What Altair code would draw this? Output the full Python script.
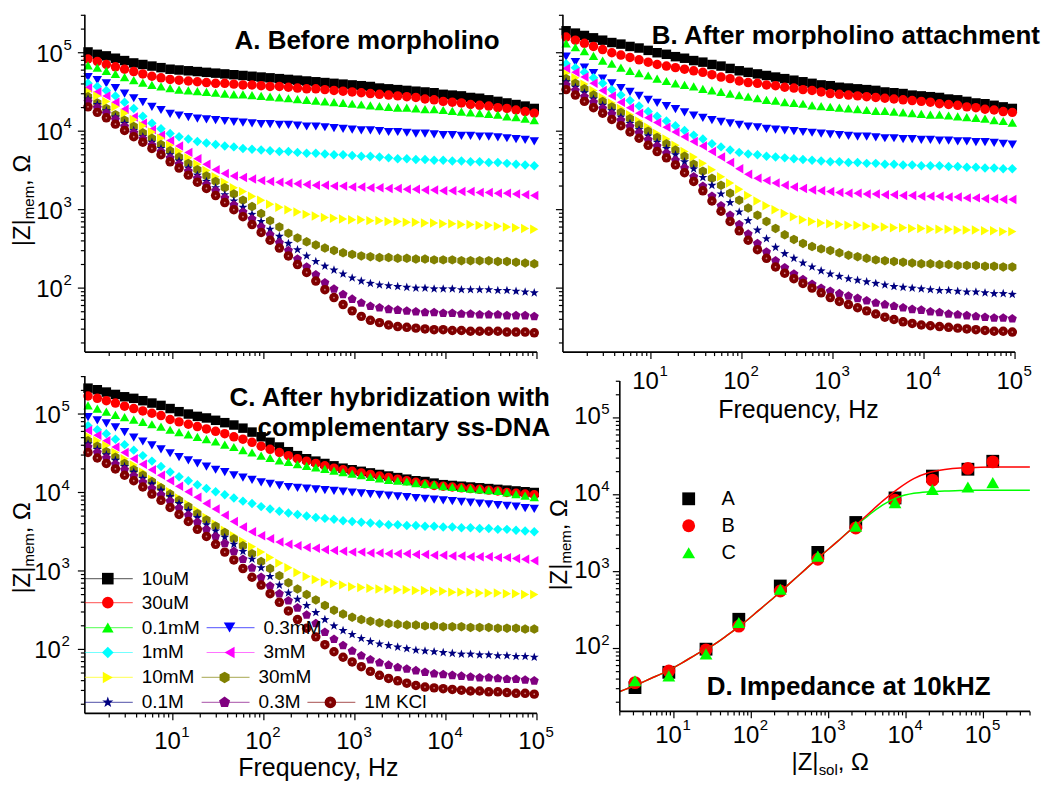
import altair as alt
import pandas as pd

FONT = "Liberation Sans"

# ---------------- series definitions ----------------
series = ["10uM", "30uM", "0.1mM", "0.3mM", "1mM", "3mM", "10mM", "30mM", "0.1M", "0.3M", "1M KCl"]
colors = ["#000000", "#FF0000", "#00FF00", "#0000FF", "#00FFFF", "#FF00FF",
          "#FFFF00", "#808000", "#000080", "#800080", "#800000"]
STAR = "M0,-1L0.235,-0.324L0.951,-0.309L0.38,0.124L0.588,0.809L0,0.4L-0.588,0.809L-0.38,0.124L-0.951,-0.309L-0.235,-0.324Z"
HEXA = "M0,-1L0.866,-0.5L0.866,0.5L0,1L-0.866,0.5L-0.866,-0.5Z"
PENT = "M0,-1L0.951,-0.309L0.588,0.809L-0.588,0.809L-0.951,-0.309Z"
shapes = ["square", "circle", "triangle-up", "triangle-down", "diamond", "triangle-left",
          "triangle-right", HEXA, STAR, PENT, "circle"]

# frequencies (Hz)
freq = [1.17, 1.48, 1.86, 2.34, 2.95, 3.72, 4.68, 5.89, 7.41, 9.33,
        11.7, 14.8, 18.6, 23.4, 29.5, 37.2, 46.8, 58.9, 74.1, 93.3,
        117, 148, 186, 234, 295, 372, 468, 589, 741, 933,
        1175, 1479, 1862, 2344, 2951, 3715, 4677, 5888, 7413, 9333,
        11749, 14791, 18621, 23442, 29512, 37154, 46774, 58884, 74131, 93325]

# ---------------- Panel A: log10 |Z|mem ----------------
A_10uM = [5.01,4.98,4.96,4.93,4.90,4.87,4.85,4.83,4.81,4.79,4.78,4.77,4.76,4.75,4.74,4.73,4.72,4.71,4.70,4.69,
          4.68,4.67,4.66,4.65,4.64,4.63,4.62,4.61,4.60,4.59,4.58,4.57,4.55,4.54,4.53,4.52,4.51,4.50,4.49,4.47,
          4.46,4.45,4.43,4.42,4.40,4.38,4.36,4.34,4.32,4.29]
A_30uM = [4.92,4.89,4.85,4.82,4.79,4.76,4.73,4.70,4.68,4.66,4.65,4.64,4.63,4.62,4.61,4.61,4.60,4.59,4.59,4.58,
          4.57,4.57,4.56,4.55,4.54,4.54,4.53,4.52,4.51,4.50,4.49,4.48,4.47,4.46,4.45,4.44,4.43,4.41,4.40,4.38,
          4.37,4.36,4.34,4.33,4.32,4.30,4.29,4.27,4.25,4.23]
A_0p1mM = [4.84,4.81,4.77,4.73,4.69,4.65,4.62,4.59,4.57,4.55,4.53,4.52,4.51,4.50,4.49,4.48,4.47,4.47,4.46,4.45,
           4.44,4.43,4.42,4.41,4.40,4.39,4.38,4.37,4.36,4.35,4.34,4.33,4.32,4.31,4.30,4.30,4.29,4.28,4.28,4.27,
           4.26,4.25,4.24,4.23,4.22,4.21,4.19,4.18,4.16,4.14]
A_0p3mM = [4.69,4.65,4.61,4.55,4.48,4.42,4.37,4.31,4.27,4.22,4.20,4.18,4.16,4.15,4.14,4.13,4.12,4.11,4.10,4.09,
           4.09,4.08,4.08,4.07,4.06,4.06,4.05,4.04,4.03,4.02,4.01,4.01,4.00,3.99,3.99,3.98,3.97,3.97,3.96,3.95,
           3.95,3.94,3.94,3.93,3.93,3.92,3.91,3.90,3.89,3.87]
A_1mM = [4.61,4.57,4.52,4.45,4.37,4.29,4.19,4.10,4.03,3.97,3.93,3.90,3.87,3.85,3.83,3.81,3.80,3.78,3.77,3.76,
         3.75,3.74,3.74,3.73,3.72,3.72,3.71,3.70,3.70,3.69,3.68,3.68,3.67,3.66,3.65,3.65,3.64,3.64,3.63,3.63,
         3.62,3.62,3.61,3.61,3.60,3.60,3.59,3.58,3.57,3.56]
A_3mM = [4.55,4.50,4.45,4.37,4.28,4.18,4.10,4.02,3.95,3.88,3.81,3.73,3.65,3.58,3.51,3.46,3.43,3.41,3.39,3.37,
         3.36,3.35,3.34,3.33,3.32,3.31,3.31,3.30,3.30,3.29,3.29,3.28,3.28,3.27,3.27,3.26,3.26,3.25,3.25,3.24,
         3.24,3.23,3.23,3.22,3.22,3.21,3.21,3.20,3.19,3.18]
A_10mM = [4.51,4.45,4.38,4.31,4.23,4.15,4.07,3.99,3.91,3.82,3.74,3.66,3.58,3.50,3.42,3.35,3.28,3.23,3.17,3.12,
          3.07,3.03,3.00,2.97,2.94,2.92,2.90,2.89,2.88,2.87,2.87,2.86,2.86,2.85,2.85,2.84,2.84,2.83,2.83,2.82,
          2.82,2.81,2.81,2.80,2.80,2.79,2.78,2.77,2.76,2.75]
A_30mM = [4.44,4.36,4.29,4.21,4.14,4.06,3.98,3.91,3.83,3.75,3.67,3.59,3.51,3.43,3.36,3.28,3.20,3.12,3.04,2.95,
          2.86,2.78,2.70,2.64,2.59,2.55,2.51,2.48,2.45,2.43,2.41,2.40,2.39,2.39,2.38,2.38,2.37,2.37,2.36,2.36,
          2.36,2.35,2.35,2.35,2.35,2.34,2.34,2.33,2.32,2.31]
A_0p1M = [4.41,4.34,4.26,4.18,4.10,4.01,3.93,3.86,3.78,3.70,3.62,3.53,3.44,3.36,3.28,3.19,3.11,3.03,2.94,2.85,
          2.75,2.66,2.57,2.49,2.41,2.34,2.28,2.23,2.18,2.13,2.09,2.06,2.04,2.03,2.02,2.01,2.00,2.00,1.99,1.99,
          1.99,1.98,1.98,1.98,1.98,1.97,1.97,1.96,1.95,1.94]
A_0p3M = [4.38,4.30,4.23,4.15,4.06,3.98,3.90,3.82,3.74,3.66,3.58,3.49,3.40,3.32,3.24,3.15,3.06,2.97,2.88,2.78,
          2.68,2.58,2.48,2.37,2.27,2.17,2.07,1.99,1.92,1.86,1.81,1.77,1.75,1.73,1.72,1.71,1.70,1.69,1.69,1.68,
          1.68,1.67,1.67,1.66,1.66,1.66,1.65,1.65,1.65,1.64]
A_1M = [4.31,4.24,4.17,4.09,4.01,3.93,3.86,3.78,3.70,3.61,3.53,3.44,3.35,3.27,3.18,3.09,3.00,2.91,2.81,2.71,
        2.61,2.51,2.41,2.30,2.20,2.09,1.98,1.88,1.79,1.71,1.64,1.59,1.56,1.53,1.51,1.50,1.49,1.48,1.47,1.47,
        1.46,1.46,1.45,1.45,1.45,1.45,1.44,1.44,1.44,1.43]

# ---------------- Panel B ----------------
B_10uM = [5.28,5.25,5.22,5.19,5.16,5.13,5.11,5.08,5.06,5.03,5.00,4.98,4.95,4.93,4.90,4.88,4.85,4.83,4.80,4.77,
          4.75,4.73,4.71,4.69,4.67,4.65,4.63,4.61,4.59,4.58,4.56,4.55,4.54,4.53,4.52,4.50,4.49,4.48,4.46,4.45,
          4.44,4.43,4.41,4.40,4.38,4.36,4.35,4.33,4.31,4.29]
B_30uM = [5.20,5.16,5.12,5.08,5.04,5.00,4.97,4.94,4.91,4.88,4.85,4.83,4.81,4.79,4.77,4.75,4.72,4.69,4.67,4.64,
          4.62,4.61,4.59,4.58,4.56,4.55,4.53,4.52,4.50,4.48,4.47,4.46,4.45,4.44,4.43,4.42,4.41,4.40,4.39,4.38,
          4.37,4.35,4.34,4.33,4.31,4.30,4.28,4.27,4.25,4.24]
B_0p1mM = [5.12,5.07,5.02,4.96,4.90,4.86,4.81,4.77,4.74,4.71,4.67,4.64,4.61,4.59,4.57,4.54,4.52,4.50,4.48,4.46,
           4.44,4.42,4.40,4.39,4.37,4.36,4.35,4.33,4.32,4.31,4.30,4.29,4.28,4.27,4.26,4.26,4.25,4.24,4.23,4.22,
           4.21,4.21,4.20,4.19,4.18,4.17,4.16,4.14,4.13,4.11]
B_0p3mM = [4.95,4.88,4.81,4.74,4.67,4.61,4.55,4.50,4.45,4.40,4.36,4.32,4.28,4.24,4.20,4.17,4.14,4.12,4.10,4.08,
           4.06,4.05,4.03,4.02,4.01,4.00,3.99,3.98,3.97,3.96,3.95,3.94,3.93,3.93,3.92,3.91,3.91,3.90,3.90,3.89,
           3.89,3.88,3.88,3.87,3.87,3.86,3.86,3.85,3.84,3.83]
B_1mM = [4.86,4.81,4.75,4.68,4.61,4.53,4.46,4.39,4.32,4.25,4.19,4.13,4.07,4.01,3.95,3.90,3.84,3.80,3.76,3.73,
         3.71,3.70,3.68,3.67,3.66,3.65,3.64,3.63,3.62,3.61,3.61,3.60,3.60,3.59,3.59,3.58,3.58,3.57,3.57,3.56,
         3.56,3.56,3.55,3.55,3.54,3.54,3.53,3.53,3.52,3.52]
B_3mM = [4.80,4.75,4.69,4.61,4.52,4.45,4.37,4.30,4.23,4.17,4.11,4.05,3.99,3.93,3.87,3.81,3.74,3.67,3.60,3.52,
         3.45,3.40,3.37,3.34,3.31,3.29,3.27,3.25,3.24,3.23,3.22,3.21,3.21,3.20,3.20,3.19,3.19,3.18,3.18,3.17,
         3.17,3.17,3.16,3.16,3.15,3.15,3.14,3.14,3.13,3.13]
B_10mM = [4.74,4.68,4.60,4.52,4.43,4.36,4.29,4.21,4.13,4.05,3.97,3.90,3.82,3.74,3.67,3.59,3.51,3.42,3.34,3.26,
          3.18,3.11,3.05,3.00,2.95,2.91,2.87,2.85,2.83,2.82,2.81,2.80,2.80,2.79,2.78,2.78,2.77,2.77,2.76,2.76,
          2.75,2.75,2.75,2.74,2.74,2.74,2.73,2.73,2.72,2.72]
B_30mM = [4.67,4.61,4.54,4.46,4.38,4.31,4.24,4.16,4.08,4.00,3.92,3.84,3.76,3.68,3.58,3.49,3.40,3.31,3.21,3.12,
          3.02,2.93,2.85,2.76,2.68,2.62,2.57,2.53,2.50,2.48,2.45,2.42,2.40,2.38,2.36,2.35,2.34,2.33,2.32,2.31,
          2.31,2.30,2.30,2.29,2.29,2.29,2.28,2.28,2.27,2.27]
B_0p1M = [4.63,4.56,4.49,4.41,4.33,4.26,4.18,4.10,4.02,3.94,3.86,3.78,3.70,3.61,3.52,3.41,3.31,3.20,3.09,2.97,
          2.86,2.74,2.63,2.52,2.44,2.38,2.32,2.27,2.22,2.18,2.15,2.12,2.10,2.08,2.06,2.04,2.02,2.01,2.00,1.99,
          1.98,1.97,1.97,1.96,1.95,1.95,1.94,1.93,1.93,1.92]
B_0p3M = [4.59,4.52,4.44,4.37,4.29,4.22,4.14,4.06,3.98,3.89,3.81,3.72,3.63,3.53,3.42,3.30,3.17,3.05,2.93,2.81,
          2.69,2.57,2.46,2.35,2.26,2.18,2.11,2.05,2.00,1.96,1.93,1.90,1.87,1.84,1.81,1.79,1.77,1.75,1.73,1.72,
          1.70,1.69,1.67,1.66,1.65,1.64,1.63,1.62,1.62,1.61]
B_1M = [4.53,4.46,4.38,4.30,4.23,4.15,4.07,3.99,3.91,3.82,3.74,3.66,3.57,3.47,3.36,3.24,3.11,2.98,2.85,2.73,
        2.61,2.49,2.38,2.27,2.19,2.12,2.06,2.00,1.94,1.88,1.83,1.79,1.75,1.71,1.67,1.63,1.60,1.57,1.55,1.53,
        1.52,1.51,1.50,1.49,1.48,1.47,1.46,1.45,1.45,1.44]

# ---------------- Panel C ----------------
C_10uM = [5.33,5.31,5.28,5.25,5.22,5.20,5.17,5.14,5.11,5.07,5.03,5.00,4.97,4.95,4.92,4.89,4.86,4.82,4.77,4.71,
          4.64,4.58,4.52,4.47,4.43,4.40,4.37,4.34,4.31,4.29,4.27,4.25,4.23,4.21,4.19,4.17,4.15,4.14,4.12,4.10,
          4.09,4.08,4.07,4.06,4.05,4.04,4.03,4.02,4.01,4.00]
C_30uM = [5.23,5.20,5.17,5.14,5.10,5.07,5.04,5.01,4.98,4.93,4.90,4.87,4.84,4.81,4.78,4.75,4.71,4.68,4.64,4.59,
          4.55,4.51,4.47,4.43,4.40,4.37,4.34,4.31,4.29,4.27,4.25,4.23,4.21,4.19,4.17,4.15,4.13,4.11,4.09,4.08,
          4.07,4.06,4.05,4.04,4.03,4.02,4.00,3.99,3.98,3.97]
C_0p1mM = [5.11,5.07,5.03,4.99,4.96,4.93,4.90,4.87,4.84,4.80,4.77,4.74,4.71,4.68,4.65,4.61,4.58,4.54,4.51,4.47,
           4.44,4.41,4.39,4.36,4.34,4.32,4.30,4.28,4.26,4.24,4.22,4.20,4.18,4.16,4.15,4.14,4.12,4.11,4.10,4.08,
           4.07,4.06,4.05,4.04,4.03,4.02,4.00,3.98,3.96,3.94]
C_0p3mM = [4.96,4.92,4.88,4.83,4.77,4.70,4.65,4.60,4.55,4.50,4.45,4.41,4.37,4.33,4.29,4.26,4.22,4.19,4.16,4.13,
           4.11,4.09,4.07,4.06,4.05,4.04,4.03,4.02,4.01,4.00,3.99,3.98,3.97,3.96,3.95,3.94,3.93,3.92,3.91,3.90,
           3.89,3.88,3.87,3.86,3.85,3.84,3.83,3.82,3.80,3.79]
C_1mM = [4.85,4.80,4.75,4.68,4.61,4.54,4.47,4.40,4.33,4.26,4.20,4.15,4.10,4.05,4.01,3.97,3.93,3.89,3.86,3.82,
         3.79,3.76,3.74,3.72,3.70,3.68,3.67,3.66,3.64,3.63,3.62,3.61,3.60,3.59,3.59,3.58,3.58,3.57,3.57,3.56,
         3.56,3.55,3.55,3.54,3.54,3.53,3.53,3.52,3.51,3.50]
C_3mM = [4.79,4.73,4.66,4.58,4.51,4.43,4.36,4.29,4.22,4.15,4.08,4.01,3.94,3.86,3.79,3.71,3.63,3.56,3.50,3.45,
         3.41,3.37,3.34,3.32,3.30,3.29,3.27,3.26,3.25,3.24,3.24,3.23,3.23,3.22,3.22,3.22,3.21,3.21,3.20,3.20,
         3.19,3.19,3.18,3.18,3.18,3.17,3.17,3.16,3.15,3.13]
C_10mM = [4.72,4.66,4.60,4.51,4.43,4.35,4.26,4.17,4.09,4.01,3.93,3.85,3.77,3.68,3.60,3.52,3.45,3.38,3.31,3.24,
          3.17,3.10,3.04,2.98,2.93,2.89,2.86,2.84,2.82,2.80,2.79,2.78,2.77,2.77,2.76,2.76,2.75,2.75,2.74,2.74,
          2.73,2.73,2.73,2.72,2.72,2.72,2.71,2.71,2.70,2.70]
C_30mM = [4.66,4.59,4.52,4.45,4.37,4.29,4.22,4.14,4.06,3.98,3.90,3.82,3.73,3.65,3.57,3.49,3.41,3.32,3.22,3.12,
          3.03,2.94,2.85,2.77,2.70,2.63,2.56,2.50,2.45,2.41,2.38,2.36,2.34,2.33,2.32,2.31,2.31,2.30,2.30,2.29,
          2.29,2.29,2.28,2.28,2.28,2.27,2.27,2.27,2.26,2.26]
C_0p1M = [4.62,4.55,4.48,4.41,4.33,4.26,4.18,4.11,4.03,3.95,3.86,3.77,3.68,3.59,3.51,3.43,3.34,3.25,3.15,3.04,
          2.93,2.82,2.72,2.64,2.56,2.47,2.38,2.30,2.24,2.19,2.14,2.10,2.07,2.05,2.03,2.01,1.99,1.98,1.97,1.96,
          1.95,1.94,1.94,1.93,1.93,1.92,1.92,1.91,1.91,1.90]
C_0p3M = [4.58,4.51,4.44,4.36,4.29,4.21,4.13,4.05,3.97,3.89,3.80,3.71,3.62,3.53,3.44,3.35,3.25,3.15,3.04,2.92,
          2.81,2.71,2.62,2.53,2.44,2.33,2.22,2.13,2.05,1.98,1.92,1.87,1.83,1.80,1.77,1.75,1.73,1.71,1.69,1.68,
          1.67,1.66,1.65,1.64,1.64,1.63,1.62,1.62,1.61,1.60]
C_1M = [4.51,4.44,4.37,4.30,4.22,4.15,4.07,3.98,3.90,3.81,3.72,3.63,3.53,3.44,3.34,3.24,3.14,3.03,2.92,2.82,
        2.71,2.60,2.49,2.38,2.27,2.16,2.06,1.97,1.90,1.84,1.78,1.72,1.67,1.63,1.60,1.57,1.54,1.52,1.51,1.50,
        1.49,1.48,1.47,1.47,1.46,1.46,1.45,1.44,1.44,1.43]

panelA = [A_10uM, A_30uM, A_0p1mM, A_0p3mM, A_1mM, A_3mM, A_10mM, A_30mM, A_0p1M, A_0p3M, A_1M]
panelB = [B_10uM, B_30uM, B_0p1mM, B_0p3mM, B_1mM, B_3mM, B_10mM, B_30mM, B_0p1M, B_0p3M, B_1M]
panelC = [C_10uM, C_30uM, C_0p1mM, C_0p3mM, C_1mM, C_3mM, C_10mM, C_30mM, C_0p1M, C_0p3M, C_1M]

# ---------------- Panel D ----------------
z_sol = [3.14, 8.6, 26, 69, 237, 724, 2240, 7200, 21900, 63000, 132000]
D_A = [31, 49, 98, 240, 650, 1780, 4360, 9100, 17500, 21500, 27300]
D_B = [36, 51, 96, 195, 560, 1450, 3700, 8500, 15500, 22000, 26800]
D_C = [38, 44, 85, 218, 590, 1590, 3900, 7900, 11700, 12600, 14400]
fit_logx = [0.302, 0.5, 0.7, 0.9, 1.1, 1.3, 1.5, 1.7, 1.9, 2.1, 2.3, 2.5, 2.7, 2.9, 3.1, 3.3,
            3.5, 3.7, 3.9, 4.1, 4.3, 4.5, 4.7, 4.9, 5.1, 5.3, 5.6]
fit_red = [1.44, 1.52, 1.61, 1.70, 1.81, 1.93, 2.04, 2.18, 2.33, 2.50, 2.67, 2.85, 3.03, 3.21, 3.38, 3.56,
           3.74, 3.92, 4.08, 4.21, 4.29, 4.33, 4.35, 4.355, 4.36, 4.36, 4.36]
fit_green = [1.44, 1.52, 1.61, 1.70, 1.81, 1.93, 2.04, 2.18, 2.33, 2.50, 2.67, 2.85, 3.03, 3.21, 3.38, 3.56,
             3.72, 3.87, 3.97, 4.02, 4.04, 4.05, 4.055, 4.06, 4.06, 4.06, 4.06]

# legend layout (panel C, pixels inside panel)
leg_x0 = [0, 0, 0, 122, 0, 122, 0, 117, 0, 117, 223]
leg_y = [203, 227, 252, 252, 277, 277, 302, 302, 327, 327, 327]

# ---------------- geometry ----------------
W, H = 453, 338
DW, DH = 468, 336
FX = alt.Scale(type="log", domain=[1.08, 1e5], nice=False)
FY = alt.Scale(type="log", domain=[15.3, 3.05e5], nice=False)
DX = alt.Scale(type="log", domain=[2.0, 4.0e5], nice=False, range=[57, 468])
DY = alt.Scale(type="log", domain=[15.2, 3.02e5], nice=False, range=[336, 5])
HILITE = "#D89494"


def ticks(lo, hi):
    vals, major = [], []
    for e in range(0, 6):
        for m in range(1, 10):
            v = m * 10 ** e
            if lo * 0.999 <= v <= hi * 1.001:
                vals.append(v)
                major.append(m == 1)
    return vals, major


def one():
    return pd.DataFrame({"a": [0]})


def x_axis(scale, lo, hi, y0, x0, x1):
    vals, major = ticks(lo, hi)
    d = pd.DataFrame({"v": vals, "y0": [y0] * len(vals), "y1": [y0 + (7 if m else 4) for m in major]})
    t = alt.Chart(d).mark_rule(strokeWidth=1.2, color="black").encode(
        x=alt.X("v:Q", scale=scale, axis=None), y=alt.Y("y0:Q", scale=None), y2="y1:Q")
    dom = alt.Chart(one()).mark_rule(strokeWidth=1.6, color="black").encode(
        x=alt.value(x0), x2=alt.value(x1), y=alt.value(y0))
    return [t, dom]


def y_axis(scale, lo, hi, x0, y0, y1):
    vals, major = ticks(lo, hi)
    d = pd.DataFrame({"v": vals, "x1": [x0] * len(vals), "x0": [x0 - (7 if m else 4) for m in major]})
    t = alt.Chart(d).mark_rule(strokeWidth=1.2, color="black").encode(
        y=alt.Y("v:Q", scale=scale, axis=None), x=alt.X("x0:Q", scale=None), x2="x1:Q")
    dom = alt.Chart(one()).mark_rule(strokeWidth=1.6, color="black").encode(
        y=alt.value(y0), y2=alt.value(y1), x=alt.value(x0))
    return [t, dom]


def points_df(lists):
    recs = []
    for name, col, shp, vals in zip(series, colors, shapes, lists):
        for f, lv in zip(freq, vals):
            recs.append({"f": f, "z": 10 ** lv, "s": name, "c": col, "sh": shp})
    return pd.DataFrame(recs)


def txt(t, x, y, size=24, bold=False, align="left", angle=0, baseline="alphabetic"):
    kw = dict(align=align, baseline=baseline, fontSize=size, font=FONT, color="black",
              fontWeight="bold" if bold else "normal")
    if angle:
        kw["angle"] = angle
    return alt.Chart(pd.DataFrame({"t": [t]})).mark_text(**kw).encode(
        x=alt.value(x), y=alt.value(y), text="t:N")


def xlabels(xs, y10, ysup):
    d = pd.DataFrame({"v": [10.0 ** e for e in range(1, 6)], "e": [str(e) for e in range(1, 6)]})
    b = alt.Chart(d)
    t1 = b.mark_text(align="right", baseline="alphabetic", fontSize=24, font=FONT, dx=8, color="black").encode(
        x=alt.X("v:Q", scale=xs, axis=None), y=alt.value(y10), text=alt.value("10"))
    t2 = b.mark_text(align="left", baseline="alphabetic", fontSize=15, font=FONT, dx=8.5, color="black").encode(
        x=alt.X("v:Q", scale=xs, axis=None), y=alt.value(ysup), text="e:N")
    return [t1, t2]


def ylabels(ys, xr, d10, dsup):
    d = pd.DataFrame({"v": [10.0 ** e for e in range(2, 6)], "e": [str(e) for e in range(2, 6)]})
    b = alt.Chart(d)
    t1 = b.mark_text(align="right", baseline="alphabetic", fontSize=24, font=FONT, dy=d10, color="black").encode(
        y=alt.Y("v:Q", scale=ys, axis=None), x=alt.value(xr), text=alt.value("10"))
    t2 = b.mark_text(align="left", baseline="alphabetic", fontSize=15, font=FONT, dy=dsup, color="black").encode(
        y=alt.Y("v:Q", scale=ys, axis=None), x=alt.value(xr + 0.5), text="e:N")
    return [t1, t2]


def ytitle(xb, y0):
    return [txt("|Z|", xb, y0, 24, angle=270),
            txt("mem", xb + 4, y0 - 27.2, 15, angle=270),
            txt(", \u03a9", xb, y0 - 27.2 - 33.3, 24, angle=270)]


def freq_panel(lists):
    df = points_df(lists)
    pts = alt.Chart(df).mark_point(filled=True, size=90, opacity=1).encode(
        x=alt.X("f:Q", scale=FX, axis=None),
        y=alt.Y("z:Q", scale=FY, axis=None),
        color=alt.Color("c:N", scale=None),
        shape=alt.Shape("sh:N", scale=None))
    hl = alt.Chart(df[df["s"] == "1M KCl"]).mark_point(filled=True, size=3, opacity=0.9, color=HILITE).encode(
        x=alt.X("f:Q", scale=FX, axis=None), y=alt.Y("z:Q", scale=FY, axis=None))
    layers = [pts, hl]
    layers += x_axis(FX, 1.08, 1e5, H, 0, W)
    layers += y_axis(FY, 15.3, 3.05e5, 0, 0, H)
    return layers


# Panel A
A_layers = freq_panel(panelA)
A_layers += ylabels(FY, -22, 9, -3)
A_layers += ytitle(-55, 232)
A_layers.append(txt("A. Before morpholino", 150, 34, 26, bold=True))
panel_a = alt.layer(*A_layers).properties(width=W, height=H)

# Panel B
B_layers = freq_panel(panelB)
B_layers += xlabels(FX, H + 37, H + 24)
B_layers.append(txt("Frequency, Hz", 236, 404, 25, align="center"))
B_layers.append(txt("B. After morpholino attachment", 89, 29, 26, bold=True))
panel_b = alt.layer(*B_layers).properties(width=W, height=H)

# Panel C
C_layers = freq_panel(panelC)
C_layers += xlabels(FX, H + 36, H + 24)
C_layers += ylabels(FY, -24, 9, -3)
C_layers += ytitle(-55, 218)
C_layers.append(txt("Frequency, Hz", 234, 401, 25, align="center"))
C_layers.append(txt("C. After hybridization with", 145, 30, 26, bold=True))
C_layers.append(txt("complementary ss-DNA", 173, 60, 26, bold=True))
leg = pd.DataFrame({"s": series, "c": colors, "sh": shapes,
                    "lx0": leg_x0, "lx1": [v + 48 for v in leg_x0],
                    "sx": [v + 23 for v in leg_x0], "tx": [v + 57 for v in leg_x0], "ly": leg_y})
C_layers.append(alt.Chart(leg).mark_rule(strokeWidth=1.2, opacity=0.55).encode(
    x=alt.X("lx0:Q", scale=None), x2="lx1:Q", y=alt.Y("ly:Q", scale=None),
    color=alt.Color("c:N", scale=None)))
C_layers.append(alt.Chart(leg).mark_point(filled=True, size=135, opacity=1).encode(
    x=alt.X("sx:Q", scale=None), y=alt.Y("ly:Q", scale=None),
    color=alt.Color("c:N", scale=None), shape=alt.Shape("sh:N", scale=None)))
C_layers.append(alt.Chart(leg[leg["s"] == "1M KCl"]).mark_point(filled=True, size=5, opacity=0.9, color=HILITE).encode(
    x=alt.X("sx:Q", scale=None), y=alt.Y("ly:Q", scale=None)))
C_layers.append(alt.Chart(leg).mark_text(align="left", baseline="middle", fontSize=19, font=FONT, color="black").encode(
    x=alt.X("tx:Q", scale=None), y=alt.Y("ly:Q", scale=None), text="s:N"))
panel_c = alt.layer(*C_layers).properties(width=W, height=H)

# Panel D
d_rows = []
for g, col, shp, vals in [("A", "#000000", "square", D_A), ("B", "#FF0000", "circle", D_B),
                          ("C", "#00FF00", "triangle-up", D_C)]:
    for xv, yv in zip(z_sol, vals):
        d_rows.append({"x": xv, "z": yv, "g": g, "c": col, "sh": shp})
ddf = pd.DataFrame(d_rows)
fit_df = pd.DataFrame({"x": [10 ** v for v in fit_logx] * 2,
                       "z": [10 ** v for v in fit_green] + [10 ** v for v in fit_red],
                       "g": ["green"] * len(fit_logx) + ["red"] * len(fit_logx)})


def d_pts(sub):
    return alt.Chart(sub).mark_point(filled=True, size=165, opacity=1).encode(
        x=alt.X("x:Q", scale=DX, axis=None), y=alt.Y("z:Q", scale=DY, axis=None),
        color=alt.Color("c:N", scale=None), shape=alt.Shape("sh:N", scale=None))


D_layers = [d_pts(ddf[ddf["g"] != "C"])]
for g, col in [("green", "#00FF00"), ("red", "#FF0000")]:
    D_layers.append(alt.Chart(fit_df[fit_df["g"] == g]).mark_line(
        strokeWidth=1.5, color=col, interpolate="monotone").encode(
        x=alt.X("x:Q", scale=DX, axis=None), y=alt.Y("z:Q", scale=DY, axis=None)))
D_layers.append(d_pts(ddf[ddf["g"] == "C"]))
D_layers += x_axis(DX, 2.0, 4.0e5, DH, 57, DW)
D_layers += y_axis(DY, 15.2, 3.02e5, 57, 5, DH)
D_layers += xlabels(DX, 368, 355)
D_layers += ylabels(DY, 38, 6, -4)
D_layers += ytitle(4, 215)
D_layers += [txt("|Z|", 229, 395, 24), txt("sol", 256.2, 400, 15), txt(", \u03a9", 275.4, 395, 24)]
D_layers.append(txt("D. Impedance at 10kHZ", 144, 320, 26, bold=True))
dleg = pd.DataFrame({"g": ["A", "B", "C"], "c": ["#000000", "#FF0000", "#00FF00"],
                     "sh": ["square", "circle", "triangle-up"], "ly": [123, 150, 177]})
D_layers.append(alt.Chart(dleg).mark_point(filled=True, size=165, opacity=1).encode(
    x=alt.value(126), y=alt.Y("ly:Q", scale=None),
    color=alt.Color("c:N", scale=None), shape=alt.Shape("sh:N", scale=None)))
D_layers.append(alt.Chart(dleg).mark_text(align="left", baseline="middle", fontSize=20, font=FONT, color="black").encode(
    x=alt.value(159), y=alt.Y("ly:Q", scale=None), text="g:N"))
panel_d = alt.layer(*D_layers).properties(width=DW, height=DH)

chart = alt.concat(panel_a, panel_b, panel_c, panel_d, columns=2,
                   spacing={"row": 24, "column": 26}, bounds="flush").properties(
    padding={"left": 3, "top": 5, "right": 0, "bottom": 0}
).configure_view(strokeWidth=0)

chart.save("out.html", embed_options={"renderer": "svg", "actions": False})
